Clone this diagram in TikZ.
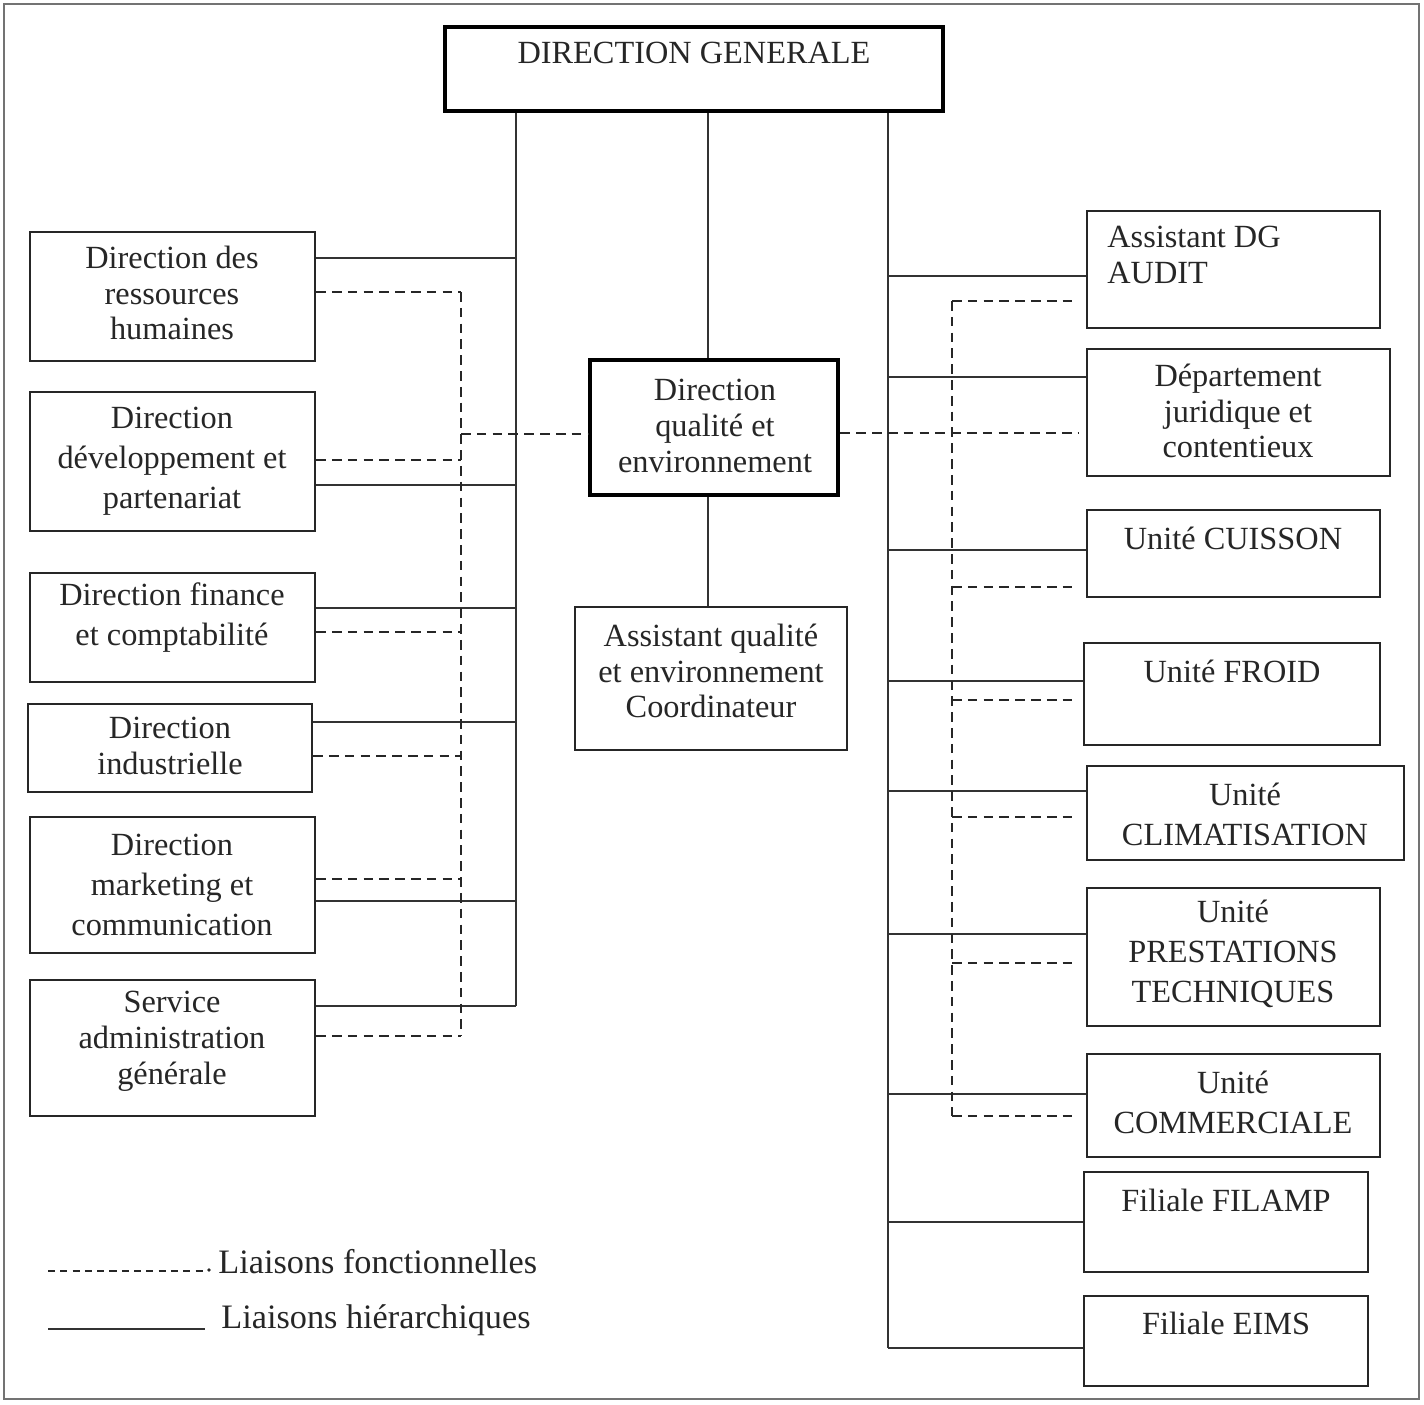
\documentclass[tikz,border=0pt]{standalone}
\usepackage{fontspec}
\setmainfont{Liberation Serif}
\usetikzlibrary{fit,calc}
\newcommand\orgbox[6]{%
  \coordinate (#1-a) at (#2,#3);
  \coordinate (#1-b) at (#4,#5);
  \node[#6, fit=(#1-a)(#1-b)] (#1) {};
}
\begin{document}
\begin{tikzpicture}[x=0.02cm,y=-0.02cm,
  box/.style={draw=black!85, line width=1.3pt, inner sep=0pt},
  thickbox/.style={draw=black, line width=2.8pt, inner sep=0pt},
  txt/.style={font=\fontsize{18.4}{20.4}\selectfont, align=center, inner sep=0pt, text=black!85},
  txtw/.style={font=\fontsize{18.4}{22.8}\selectfont, align=center, inner sep=0pt, text=black!85},
  legtxt/.style={font=\fontsize{19.5}{22}\selectfont, inner sep=0pt, text=black!85},
  hier/.style={draw=black!80, line width=1.25pt},
  func/.style={draw=black!85, line width=1.5pt, dash pattern=on 5.5pt off 3.5pt},
]
\useasboundingbox (0,0) rectangle (1424,1405);
\draw[black!55, line width=1.2pt] (4,4) rectangle (1419,1399);

% ---- boxes ----
\orgbox{DG}{445}{27}{943}{111}{thickbox}
\node[txt] (DG-t) at (694,53) {DIRECTION GENERALE};

\orgbox{rh}{30}{232}{315}{361}{box}
\node[txt] (rh-t) at (172,293) {Direction des\\ressources\\humaines};
\orgbox{dev}{30}{392}{315}{531}{box}
\node[txtw] (dev-t) at (172,461) {Direction\\développement et\\partenariat};
\orgbox{fin}{30}{573}{315}{682}{box}
\node[txtw] (fin-t) at (172,618) {Direction finance\\et comptabilité};
\orgbox{ind}{28}{704}{312}{792}{box}
\node[txt] (ind-t) at (170,746) {Direction\\industrielle};
\orgbox{mkt}{30}{817}{315}{953}{box}
\node[txtw] (mkt-t) at (172,885) {Direction\\marketing et\\communication};
\orgbox{adm}{30}{980}{315}{1116}{box}
\node[txt] (adm-t) at (172,1041) {Service\\administration\\générale};

\orgbox{dq}{590}{360}{838}{495}{thickbox}
\node[txt] (dq-t) at (715,426) {Direction\\qualité et\\environnement};
\orgbox{aq}{575}{607}{847}{750}{box}
\node[txt] (aq-t) at (711,671) {Assistant qualité\\et environnement\\Coordinateur};

\orgbox{aud}{1087}{211}{1380}{328}{box}
\node[txt, align=left, anchor=west] (aud-t) at (1107,255) {Assistant DG\\AUDIT};
\orgbox{jur}{1087}{349}{1390}{476}{box}
\node[txt] (jur-t) at (1238,411) {Département\\juridique et\\contentieux};
\orgbox{cui}{1087}{510}{1380}{597}{box}
\node[txt] (cui-t) at (1233,538) {Unité CUISSON};
\orgbox{fro}{1084}{643}{1380}{745}{box}
\node[txt] (fro-t) at (1232,671) {Unité FROID};
\orgbox{cli}{1087}{766}{1404}{860}{box}
\node[txtw] (cli-t) at (1245,814) {Unité\\CLIMATISATION};
\orgbox{pre}{1087}{888}{1380}{1026}{box}
\node[txtw] (pre-t) at (1233,954) {Unité\\PRESTATIONS\\TECHNIQUES};
\orgbox{com}{1087}{1054}{1380}{1157}{box}
\node[txtw] (com-t) at (1233,1102) {Unité\\COMMERCIALE};
\orgbox{fil}{1084}{1172}{1368}{1272}{box}
\node[txt] (fil-t) at (1226,1200) {Filiale FILAMP};
\orgbox{eim}{1084}{1296}{1368}{1386}{box}
\node[txt] (eim-t) at (1226,1323) {Filiale EIMS};

% ---- left hierarchical bus ----
\coordinate (LsT) at (DG.south -| 516,0);
\coordinate (LsB) at (516,1006);
\draw[hier] (LsT) -- (LsB);
\foreach \n/\y in {rh/258, dev/485, fin/608, ind/722, mkt/901, adm/1006}{
  \coordinate (Ls-\n) at (516,\y);
  \draw[hier] (\n.east |- Ls-\n) -- (Ls-\n);
}

% ---- left functional bus ----
\coordinate (LdT) at (461,292);
\coordinate (LdB) at (461,1036);
\draw[func] (LdT) -- (LdB);
\foreach \n/\y in {rh/292, dev/460, fin/632, ind/756, mkt/879, adm/1036}{
  \coordinate (Ld-\n) at (461,\y);
  \draw[func] (\n.east |- Ld-\n) -- (Ld-\n);
}
\coordinate (Ld-dq) at (461,434);
\draw[func] (Ld-dq) -- (dq.west |- Ld-dq);

% ---- centre ----
\draw[hier] (DG.south -| 708,0) -- (dq.north -| 708,0);
\draw[hier] (dq.south -| 708,0) -- (aq.north -| 708,0);

% ---- right hierarchical bus ----
\coordinate (RsT) at (DG.south -| 888,0);
\coordinate (RsB) at (888,1348);
\draw[hier] (RsT) -- (RsB);
\foreach \n/\y in {aud/276, jur/377, cui/550, fro/681, cli/791, pre/934, com/1094, fil/1222, eim/1348}{
  \coordinate (Rs-\n) at (888,\y);
  \draw[hier] (Rs-\n) -- (\n.west |- Rs-\n);
}

% ---- right functional bus ----
\coordinate (RdT) at (952,301);
\coordinate (RdB) at (952,1116);
\draw[func] (RdT) -- (RdB);
\foreach \n/\y in {aud/301, cui/587, fro/700, cli/817, pre/963, com/1116}{
  \coordinate (Rd-\n) at (952,\y);
  \draw[func, shorten >=0.16cm] (Rd-\n) -- (\n.west |- Rd-\n);
}
\coordinate (dq-r) at (dq.east |- 0,433);
\draw[func, shorten >=0.16cm] (dq-r) -- (jur.west |- dq-r);

% ---- legend ----
\node[legtxt, anchor=west] (leg1) at (218,1262) {Liaisons fonctionnelles};
\node[legtxt, anchor=west] (leg2) at (221,1320) {Liaisons hiérarchiques};
\coordinate (leg1-s) at (48,1271);
\coordinate (leg2-s) at (48,1329);
\draw[func, dash pattern=on 4pt off 3pt] (leg1-s) -- (leg1-s -| 203,0);
\fill[black!85] (209,1270) circle (1.8);
\draw[hier] (leg2-s) -- (leg2-s -| 205,0);
\end{tikzpicture}
\end{document}
